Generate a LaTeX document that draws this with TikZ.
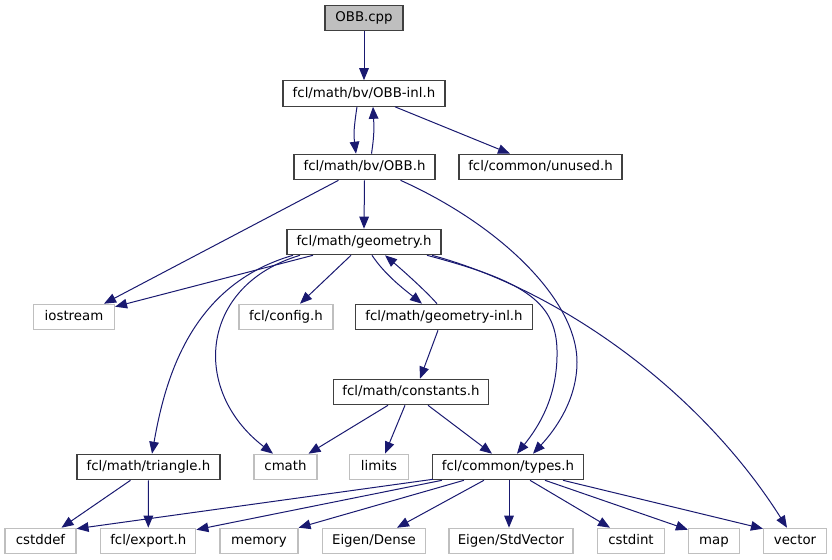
\documentclass[tikz,border=0pt]{standalone}
\usepackage{fontspec}
\setmainfont{DejaVu Sans}
\usetikzlibrary{arrows.meta,calc}
\definecolor{edgeblue}{HTML}{191970}
\definecolor{docborder}{HTML}{404040}
\definecolor{extborder}{HTML}{BFBFBF}
\definecolor{curfill}{HTML}{BFBFBF}
\begin{document}
\begin{tikzpicture}[x=0.75pt,y=-0.75pt,
  every node/.style={font=\fontsize{10}{12}\selectfont, inner sep=0pt, text height=7.5pt, text depth=2.2pt, minimum height=19.1pt, anchor=center},
  docbox/.style={draw=docborder, line width=0.85pt, fill=white},
  extbox/.style={draw=extborder, line width=0.85pt, fill=white},
  curbox/.style={draw=docborder, line width=0.85pt, fill=curfill},
  edge/.style={draw=edgeblue, line width=0.75pt, -{Triangle[length=9pt,width=7.2pt]}, fill=none},
]
\path[use as bounding box] (0,0) rectangle (832,560);
% nodes
\node[curbox, minimum width=58.5pt] (cpp) at (364,18) {OBB.cpp};
\node[docbox, minimum width=121.5pt] (inl) at (364,93.5) {fcl/math/bv/OBB-inl.h};
\node[docbox, minimum width=105.75pt] (obbh) at (364.5,167) {fcl/math/bv/OBB.h};
\node[docbox, minimum width=122.25pt] (unused) at (540.5,167) {fcl/common/unused.h};
\node[docbox, minimum width=115.5pt] (geo) at (364,242) {fcl/math/geometry.h};
\node[extbox, minimum width=60.75pt] (io) at (74,317) {iostream};
\node[extbox, minimum width=70.5pt] (config) at (286,317) {fcl/config.h};
\node[docbox, minimum width=132.75pt] (geoinl) at (444,317) {fcl/math/geometry-inl.h};
\node[docbox, minimum width=116.25pt] (const) at (411,392) {fcl/math/constants.h};
\node[docbox, minimum width=107.25pt] (tri) at (148.5,467) {fcl/math/triangle.h};
\node[extbox, minimum width=47.25pt] (cmath) at (285.5,467) {cmath};
\node[extbox, minimum width=44.25pt] (limits) at (379,467) {limits};
\node[docbox, minimum width=113.25pt] (types) at (508,467) {fcl/common/types.h};
\node[extbox, minimum width=53.25pt] (cstddef) at (40.5,541) {cstddef};
\node[extbox, minimum width=71.25pt] (export) at (148.3,541) {fcl/export.h};
\node[extbox, minimum width=58.5pt] (memory) at (259,541) {memory};
\node[extbox, minimum width=77.25pt] (dense) at (374,541) {Eigen/Dense};
\node[extbox, minimum width=93pt] (stdvec) at (511,541) {Eigen/StdVector};
\node[extbox, minimum width=50.25pt] (cstdint) at (631,541) {cstdint};
\node[extbox, minimum width=38.25pt] (map) at (714,541) {map};
\node[extbox, minimum width=47.25pt] (vector) at (795,541) {vector};
% edges
\draw[edge] (cpp.south) -- (inl.north);
\draw[edge] ($(inl.south)+(-7,0)$) .. controls ($(inl.south)+(-10,20)$) and ($(obbh.north)+(-11,-20)$) .. ($(obbh.north)+(-8.5,0)$);
\draw[edge] ($(obbh.north)+(7,0)$) .. controls ($(obbh.north)+(10,-20)$) and ($(inl.south)+(10,20)$) .. ($(inl.south)+(9,0)$);
\draw[edge] ($(inl.south)+(31,0)$) -- ($(unused.north)+(-30.5,0)$);
\draw[edge] ($(obbh.south)+(-26,0)$) -- ($(io.north)+(30,0)$);
\draw[edge] (obbh.south) -- (geo.north);
\draw[edge] ($(obbh.south)+(36,0)$) .. controls (500,225) and (577,300) .. (577,362) .. controls (577,400) and (555,430) .. ($(types.north)+(25,0)$);
\draw[edge] ($(geo.south)+(-51,0)$) -- ($(io.north east)+(0,3)$);
\draw[edge] ($(geo.south)+(-71,0)$) .. controls (190,285) and (165,380) .. ($(tri.north)+(3.5,0)$);
\draw[edge] ($(geo.south)+(-64,0)$) .. controls (200,285) and (190,390) .. ($(cmath.north)+(-12.5,0)$);
\draw[edge] ($(geo.south)+(-13,0)$) -- ($(config.north)+(14,0)$);
\draw[edge] ($(geo.south)+(8,0)$) .. controls (385,275) and (405,290) .. ($(geoinl.north)+(-22,0)$);
\draw[edge] ($(geoinl.north)+(-7,0)$) .. controls (425,290) and (400,268) .. ($(geo.south)+(21,0)$);
\draw[edge] ($(geo.south)+(63,0)$) .. controls (520,280) and (556,300) .. (557,350) .. controls (558,395) and (540,425) .. ($(types.north)+(9,0)$);
\draw[edge] ($(geo.south)+(68,0)$) .. controls (560,290) and (700,390) .. ($(vector.north)+(-8,0)$);
\draw[edge] ($(geoinl.south)+(-6,0)$) -- ($(const.north)+(9,0)$);
\draw[edge] ($(const.south)+(-23,0)$) -- ($(cmath.north)+(23,0)$);
\draw[edge] ($(const.south)+(-6,0)$) -- ($(limits.north)+(6,0)$);
\draw[edge] ($(const.south)+(17,0)$) -- ($(types.north)+(-16,0)$);
\draw[edge] ($(tri.south)+(-18,0)$) -- ($(cstddef.north)+(21,0)$);
\draw[edge] (tri.south) -- (export.north);
\draw[edge] ($(types.south west)+(1,-1)$) -- ($(cstddef.north east)+(0,1)$);
\draw[edge] ($(types.south west)+(10,0)$) -- ($(export.north east)+(0,2)$);
\draw[edge] ($(types.south west)+(32,0)$) -- ($(memory.north east)+(0,0)$);
\draw[edge] ($(types.south west)+(52,0)$) -- ($(dense.north)+(23,0)$);
\draw[edge] ($(types.south)+(1,0)$) -- ($(stdvec.north)+(-2,0)$);
\draw[edge] ($(types.south)+(22,0)$) -- ($(cstdint.north)+(-21,0)$);
\draw[edge] ($(types.south)+(37,0)$) -- ($(map.north west)+(0,2)$);
\draw[edge] ($(types.south)+(55,0)$) -- ($(vector.north west)+(0,1)$);
\end{tikzpicture}
\end{document}
